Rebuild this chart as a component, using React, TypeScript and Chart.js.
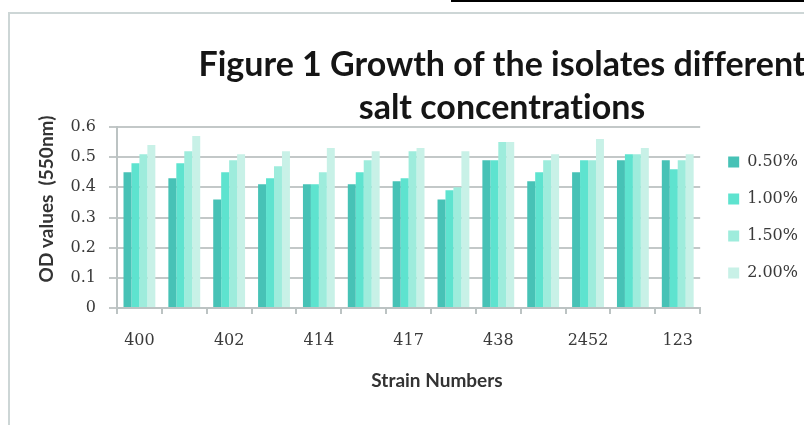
import React, { useEffect, useRef } from "react";
import { Chart, registerables } from "chart.js";

Chart.register(...registerables);

// ---- data ----
const categories = ["400", "", "402", "", "414", "", "417", "", "438", "", "2452", "", "123"];
const seriesNames = ["0.50%", "1.00%", "1.50%", "2.00%"];
const s050 = [0.45, 0.43, 0.36, 0.41, 0.41, 0.41, 0.42, 0.36, 0.49, 0.42, 0.45, 0.49, 0.49];
const s100 = [0.48, 0.48, 0.45, 0.43, 0.41, 0.45, 0.43, 0.39, 0.49, 0.45, 0.49, 0.51, 0.46];
const s150 = [0.51, 0.52, 0.49, 0.47, 0.45, 0.49, 0.52, 0.40, 0.55, 0.49, 0.49, 0.51, 0.49];
const s200 = [0.54, 0.57, 0.51, 0.52, 0.53, 0.52, 0.53, 0.52, 0.55, 0.51, 0.56, 0.53, 0.51];
const yMin = 0;
const yMax = 0.6;
const yStep = 0.1;
const titleLines = ["Figure 1 Growth of the isolates different", "salt concentrations"];
const xTitle = "Strain Numbers";
const yTitle = "OD values  (550nm)";

const colors = ["#47c2b6", "#5ee3cf", "#9eecdc", "#c8f1e7"];

const titlePlugin = {
  id: "figureTitles",
  afterDraw(chart: any) {
    const ctx = chart.ctx;
    ctx.save();
    try {
      (ctx as any).textRendering = "optimizeSpeed";
    } catch (e) {}
    ctx.fillStyle = "#151515";
    ctx.textAlign = "center";
    ctx.textBaseline = "alphabetic";
    ctx.font = "bold 34px Lato";
    ctx.fillText(titleLines[0], 502, 76);
    ctx.fillText(titleLines[1], 502, 119);

    ctx.fillStyle = "#333333";
    ctx.font = "bold 19px Lato";
    ctx.textBaseline = "middle";
    ctx.fillText(xTitle, 437, 381);
    ctx.translate(47, 199);
    ctx.rotate(-Math.PI / 2);
    ctx.fillText(yTitle, 0, 0);
    ctx.restore();
  },
};

export default function App() {
  const canvasRef = useRef<HTMLCanvasElement | null>(null);

  useEffect(() => {
    document.body.style.margin = "0";
    const canvas = canvasRef.current;
    if (!canvas) return;
    const tickFont = { family: "'DejaVu Serif', serif", size: 16 };
    const chart = new Chart(canvas, {
      type: "bar",
      data: {
        labels: categories,
        datasets: [s050, s100, s150, s200].map((d, i) => ({
          label: seriesNames[i],
          data: d,
          backgroundColor: colors[i],
          borderWidth: 0,
          categoryPercentage: 0.71,
          barPercentage: 1.0,
        })),
      },
      options: {
        responsive: false,
        animation: false,
        devicePixelRatio: 1,
        layout: { padding: { left: 31, top: 127, right: 4, bottom: 28 } },
        plugins: {
          title: { display: false },
          tooltip: { enabled: false },
          legend: {
            position: "right",
            align: "center",
            fullSize: false,
            labels: {
              boxWidth: 11,
              boxHeight: 11,
              padding: 21,
              font: tickFont,
              color: "#3a3a3a",
            },
          },
        },
        scales: {
          x: {
            offset: true,
            grid: {
              display: true,
              offset: true,
              drawOnChartArea: false,
              drawTicks: true,
              tickLength: 6,
              color: "#bcc3c3",
              lineWidth: 2,
            },
            border: { display: true, color: "#bcc3c3", width: 2 },
            ticks: {
              autoSkip: false,
              maxRotation: 0,
              padding: 17,
              font: tickFont,
              color: "#3a3a3a",
            },
            title: { display: false },
            afterFit: (s: any) => {
              s.height = 89;
            },
          },
          y: {
            min: yMin,
            max: yMax,
            grid: { color: "#c3c8c8", lineWidth: 2, tickLength: 8 },
            border: { display: true, color: "#bcc3c3", width: 2 },
            ticks: { stepSize: yStep, padding: 13, font: tickFont, color: "#3a3a3a" },
            title: { display: false },
            afterFit: (s: any) => {
              s.width = 86;
            },
          },
          gap: {
            type: "linear",
            position: "right",
            display: true,
            grid: { display: false },
            border: { display: false },
            ticks: { display: false },
            afterFit: (s: any) => {
              s.width = 7;
            },
          },
        },
      },
      plugins: [titlePlugin],
    });
    return () => chart.destroy();
  }, []);

  return (
    <div style={{ position: "relative", width: 804, height: 425, overflow: "hidden", background: "#fff" }}>
      <div
        style={{
          position: "absolute",
          left: 8,
          top: 12,
          width: 900,
          height: 500,
          border: "2px solid #cdd6d6",
          boxSizing: "border-box",
        }}
      />
      <div style={{ position: "absolute", left: 451, top: 0, width: 353, height: 2, background: "#000" }} />
      <canvas
        ref={canvasRef}
        width={812}
        height={425}
        style={{ position: "absolute", left: 0, top: 0, width: 812, height: 425 }}
      />
    </div>
  );
}
